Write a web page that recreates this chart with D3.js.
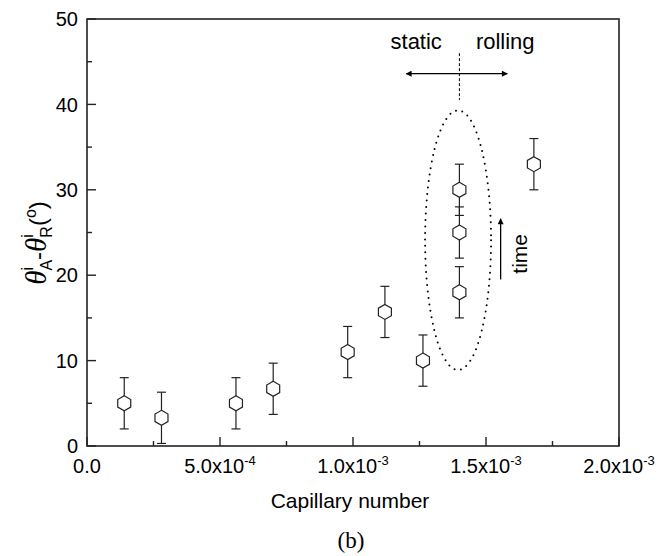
<!DOCTYPE html>
<html>
<head>
<meta charset="utf-8">
<script src="https://cdn.jsdelivr.net/npm/d3@7"></script>
<style>
  body { margin: 0; background: #fff; }
  text { font-family: "Liberation Sans", Arial, sans-serif; fill: #000; }
</style>
</head>
<body>
<div id="chart"></div>
<script>
// data
const capNumbers = [1.4e-4, 2.8e-4, 5.6e-4, 7.0e-4, 9.8e-4, 1.12e-3, 1.263e-3, 1.40e-3, 1.40e-3, 1.40e-3, 1.68e-3];
const hysteresis = [5, 3.3, 5, 6.7, 11, 15.7, 10, 18, 25, 30, 33];
const errors = [3, 3, 3, 3, 3, 3, 3, 3, 3, 3, 3];
const xTicks = [0, 5e-4, 1e-3, 1.5e-3, 2e-3];
const xTickLabels = [["0.0", ""], ["5.0x10", "-4"], ["1.0x10", "-3"], ["1.5x10", "-3"], ["2.0x10", "-3"]];
const yTicks = [0, 10, 20, 30, 40, 50];

const W = 658, H = 556;
const margin = { top: 19, right: 39, bottom: 110, left: 87 };
const width = W - margin.left - margin.right;
const height = H - margin.top - margin.bottom;

const svg = d3.select("#chart").append("svg")
    .attr("width", W)
    .attr("height", H);

const g = svg.append("g")
    .attr("transform", `translate(${margin.left},${margin.top})`);

const x = d3.scaleLinear().domain([0, 2e-3]).range([0, width]);
const y = d3.scaleLinear().domain([0, 50]).range([height, 0]);

// frame
g.append("rect")
    .attr("width", width)
    .attr("height", height)
    .attr("fill", "none")
    .attr("stroke", "#222")
    .attr("stroke-width", 1.6);

// ticks pointing inward
const xMinor = d3.range(0, 2e-3 + 1e-9, 2.5e-4);
g.selectAll(".xtick")
    .data(xMinor)
  .enter().append("line")
    .attr("x1", d => x(d)).attr("x2", d => x(d))
    .attr("y1", height)
    .attr("y2", (d, i) => height - (i % 2 === 0 ? 9 : 5))
    .attr("stroke", "#222").attr("stroke-width", 1.4);

const yMinor = d3.range(0, 51, 5);
g.selectAll(".ytick")
    .data(yMinor)
  .enter().append("line")
    .attr("y1", d => y(d)).attr("y2", d => y(d))
    .attr("x1", 0)
    .attr("x2", (d, i) => (i % 2 === 0 ? 9 : 5))
    .attr("stroke", "#222").attr("stroke-width", 1.4);

// y tick labels
g.selectAll(".ylab")
    .data(yTicks)
  .enter().append("text")
    .attr("x", -9)
    .attr("y", d => y(d))
    .attr("dy", "0.36em")
    .attr("text-anchor", "end")
    .style("font-size", "20px")
    .text(d => d);

// x tick labels with superscript exponent
const xl = g.selectAll(".xlab")
    .data(xTicks)
  .enter().append("text")
    .attr("x", d => x(d))
    .attr("y", height + 27)
    .attr("text-anchor", "middle")
    .style("font-size", "20px");
xl.append("tspan").text((d, i) => xTickLabels[i][0]);
xl.append("tspan")
    .attr("dy", -8)
    .style("font-size", "13px")
    .text((d, i) => xTickLabels[i][1]);

// axis title
g.append("text")
    .attr("x", width / 2 - 3)
    .attr("y", height + 62)
    .attr("text-anchor", "middle")
    .style("font-size", "21px")
    .text("Capillary number");

svg.append("text")
    .attr("x", margin.left + width / 2 - 2)
    .attr("y", H - 8)
    .attr("text-anchor", "middle")
    .style("font-family", "'Liberation Serif', serif")
    .style("font-size", "23px")
    .text("(b)");

// y axis title, built piece by piece
const yt = svg.append("g");
let cx = 0;
function piece(str, opts) {
  const t = yt.append("text")
      .attr("x", cx)
      .attr("y", opts.dy || 0)
      .style("font-size", (opts.size || 20) + "px")
      .text(str);
  if (opts.serif) t.style("font-family", "'Liberation Serif', serif").style("font-style", "italic");
  const w = t.node().getComputedTextLength();
  if (!opts.stay) cx += w;
  return w;
}
piece("θ", { serif: true, size: 29 });
piece("i", { size: 16, dy: -13, stay: true });
piece("A", { size: 16, dy: 6 });
piece("-", { size: 24 });
piece("θ", { serif: true, size: 29 });
piece("i", { size: 16, dy: -13, stay: true });
piece("R", { size: 16, dy: 6 });
piece("(", { size: 24 });
piece("o", { size: 16, dy: -10 });
piece(")", { size: 24 });
yt.attr("transform", `translate(46,${243 + cx / 2}) rotate(-90)`);

// ellipse around the rolling-onset points
const ell = { cx: 1.395e-3, cy: 24.1, rx: 0.124e-3, ry: 15.2 };
g.append("ellipse")
    .attr("cx", x(ell.cx))
    .attr("cy", y(ell.cy))
    .attr("rx", x(ell.rx) - x(0))
    .attr("ry", y(0) - y(ell.ry))
    .attr("fill", "none")
    .attr("stroke", "#000")
    .attr("stroke-width", 2)
    .attr("stroke-linecap", "round")
    .attr("stroke-dasharray", "0 6.5");

// static / rolling annotation
const divX = x(1.4e-3);
g.append("line")
    .attr("x1", divX).attr("x2", divX)
    .attr("y1", y(46)).attr("y2", y(40.5))
    .attr("stroke", "#000").attr("stroke-width", 1)
    .attr("stroke-dasharray", "3 2");

const defs = svg.append("defs");
defs.append("marker")
    .attr("id", "ah")
    .attr("viewBox", "0 0 10 10")
    .attr("refX", 9).attr("refY", 5)
    .attr("markerWidth", 11).attr("markerHeight", 6)
    .attr("markerUnits", "userSpaceOnUse")
    .attr("orient", "auto-start-reverse")
  .append("path")
    .attr("d", "M0,0 L10,5 L0,10 Z")
    .attr("fill", "#000");

g.append("line")
    .attr("x1", x(1.2e-3)).attr("x2", x(1.58e-3))
    .attr("y1", y(43.6)).attr("y2", y(43.6))
    .attr("stroke", "#000").attr("stroke-width", 1.3)
    .attr("marker-start", "url(#ah)")
    .attr("marker-end", "url(#ah)");

g.append("text")
    .attr("x", x(1.2e-3) + 10)
    .attr("y", y(46.5))
    .attr("text-anchor", "middle")
    .style("font-size", "22px")
    .text("static");
g.append("text")
    .attr("x", x(1.462e-3))
    .attr("y", y(46.5))
    .style("font-size", "22px")
    .text("rolling");

// time arrow
g.append("line")
    .attr("x1", x(1.555e-3)).attr("x2", x(1.555e-3))
    .attr("y1", y(19.5)).attr("y2", y(26.6))
    .attr("stroke", "#000").attr("stroke-width", 1.3)
    .attr("marker-end", "url(#ah)");
g.append("text")
    .attr("transform", `translate(${x(1.555e-3) + 26},${y(22.5)}) rotate(-90)`)
    .attr("text-anchor", "middle")
    .style("font-size", "21px")
    .text("time");

// error bars
const pts = capNumbers.map((c, i) => ({ c, v: hysteresis[i], e: errors[i] }));
const eb = g.selectAll(".err")
    .data(pts)
  .enter().append("g")
    .attr("stroke", "#222")
    .attr("stroke-width", 1.2);
eb.append("line")
    .attr("x1", d => x(d.c)).attr("x2", d => x(d.c))
    .attr("y1", d => y(d.v - d.e)).attr("y2", d => y(d.v + d.e));
eb.append("line")
    .attr("x1", d => x(d.c) - 4.5).attr("x2", d => x(d.c) + 4.5)
    .attr("y1", d => y(d.v - d.e)).attr("y2", d => y(d.v - d.e));
eb.append("line")
    .attr("x1", d => x(d.c) - 4.5).attr("x2", d => x(d.c) + 4.5)
    .attr("y1", d => y(d.v + d.e)).attr("y2", d => y(d.v + d.e));

// hexagon markers
const r = 7.5;
const hex = d3.range(6).map(k => {
  const a = Math.PI / 3 * k - Math.PI / 2;
  return [r * Math.cos(a), r * Math.sin(a)];
});
g.selectAll(".pt")
    .data(pts)
  .enter().append("path")
    .attr("d", "M" + hex.join("L") + "Z")
    .attr("transform", d => `translate(${x(d.c)},${y(d.v)})`)
    .attr("fill", "#fff")
    .attr("stroke", "#222")
    .attr("stroke-width", 1.2);
</script>
</body>
</html>
